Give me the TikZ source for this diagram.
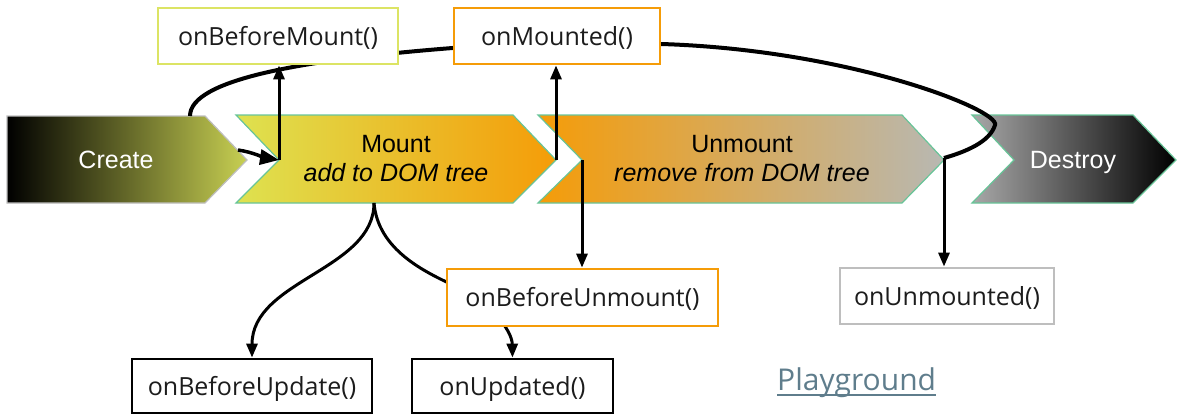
\documentclass[tikz,border=0pt]{standalone}
\usepackage{fontspec}
\setmainfont{Liberation Sans}
\newfontfamily\boxfont{Open Sans}
\usetikzlibrary{arrows.meta}

\definecolor{mint}{RGB}{104,196,152}
\definecolor{createR}{RGB}{200,208,82}
\definecolor{mountL}{RGB}{222,226,80}
\definecolor{orangeA}{RGB}{245,156,8}
\definecolor{greyR}{RGB}{184,184,178}
\definecolor{destL}{RGB}{168,168,168}
\definecolor{bmEdge}{RGB}{220,228,100}
\definecolor{umEdge}{RGB}{190,190,190}
\definecolor{linkc}{RGB}{95,125,140}
\definecolor{inkc}{RGB}{28,28,28}

\pgfdeclarelayer{back}
\pgfdeclarelayer{mid}
\pgfsetlayers{back,mid,main}

\tikzset{
  phase/.style={line width=1.2pt, draw=mint},
  phasetext/.style={font=\fontsize{25}{29}\selectfont, align=center, inner sep=0pt},
  hook/.style={draw, fill=white, line width=2.8pt, font=\boxfont\fontsize{25}{30}\selectfont,
    text=inkc, text height=18pt, text depth=0pt, inner sep=0pt},
  arr/.style={line width=3pt, -{Triangle[length=14pt,width=11pt]}},
  arrbig/.style={line width=3.5pt, -{Triangle[length=19pt,width=15pt]}},
  loopline/.style={line width=4pt},
}

\begin{document}
\begin{tikzpicture}[x=1pt,y=-1pt]
\useasboundingbox (0,0) rectangle (1177,415);

% lifecycle phases
\begin{pgfonlayer}{back}
\shadedraw[left color=black, right color=createR, draw=umEdge, line width=1.2pt]
  (7,116) -- (205,116) -- (247,160) -- (205,203) -- (7,203) -- cycle;
\shadedraw[phase, left color=mountL, right color=orangeA]
  (236,115) -- (513,115) -- (556,160) -- (513,203) -- (236,203) -- (279,160) -- cycle;
\shadedraw[phase, left color=orangeA, right color=greyR]
  (538,115) -- (902,115) -- (944,160) -- (902,203) -- (538,203) -- (582,160) -- cycle;
\shadedraw[phase, left color=destL, right color=black]
  (972,115) -- (1133,115) -- (1176,160) -- (1133,203) -- (972,203) -- (1014,160) -- cycle;
\end{pgfonlayer}

\node[phasetext, text=white, anchor=base] (create) at (116,168) {Create};
\node[phasetext] (mount) at (396,159) {Mount\\\itshape add to DOM tree};
\node[phasetext] (unmount) at (742,159) {Unmount\\\itshape remove from DOM tree};
\node[phasetext, text=white, anchor=base] (destroy) at (1073,168) {Destroy};

% points on the phase outlines
\coordinate (createTop) at (190,116);
\coordinate (createOut) at (238,150);
\coordinate (mountNotch) at (279,160);
\coordinate (mountTip) at (556,160);
\coordinate (mountBase) at (374,203);
\coordinate (unNotch) at (582,160);
\coordinate (unTip) at (944,158);

% hooks
\node[hook, draw=bmEdge, minimum width=240pt, minimum height=56pt] (bm) at (278,36) {onBeforeMount()};
\node[hook, draw=orangeA, minimum width=206pt, minimum height=56pt] (mo) at (557,36) {onMounted()};
\node[hook, draw=orangeA, minimum width=271pt, minimum height=57pt] (bu) at (582.5,297.5) {onBeforeUnmount()};
\node[hook, draw=umEdge, minimum width=214pt, minimum height=56pt] (um) at (947,296) {onUnmounted()};
\node[hook, draw=black, minimum width=240pt, minimum height=54pt] (bup) at (252,386) {onBeforeUpdate()};
\node[hook, draw=black, minimum width=201pt, minimum height=54pt] (upd) at (512.5,386) {onUpdated()};

\node[font=\boxfont\fontsize{30}{36}\selectfont, text=linkc, anchor=base west, inner sep=0pt]
  (pg) at (777,390) {Playground};
\draw[linkc, line width=2pt] ([yshift=-5pt]pg.base west) -- ([yshift=-5pt]pg.base east);

% connectors
\begin{pgfonlayer}{mid}
\draw[loopline] (createTop) .. controls (190,80) and (300,60) .. ([yshift=-12pt]mo.west)
  -- ([yshift=-8pt]mo.east) .. controls (850,50) and (1000,110) .. (995,125)
  .. controls (990,142) and (965,152) .. (unTip);
\draw[arrbig] (createOut) .. controls (252,152) and (266,158) .. (mountNotch);
\draw[arr] (mountNotch) -- (mountNotch |- bm.south);
\draw[arr] (mountTip) -- (mountTip |- mo.south);
\draw[arr] (unNotch) -- (unNotch |- bu.north);
\draw[arr] (unTip) -- (unTip |- um.north);
\draw[arr] (mountBase) .. controls (374,270) and (252,280) .. (bup.north);
\draw[arr] (mountBase) .. controls (378,250) and (425,272) .. (455,286)
  .. controls (490,302) and (512,330) .. (upd.north);
\end{pgfonlayer}
\end{tikzpicture}
\end{document}
